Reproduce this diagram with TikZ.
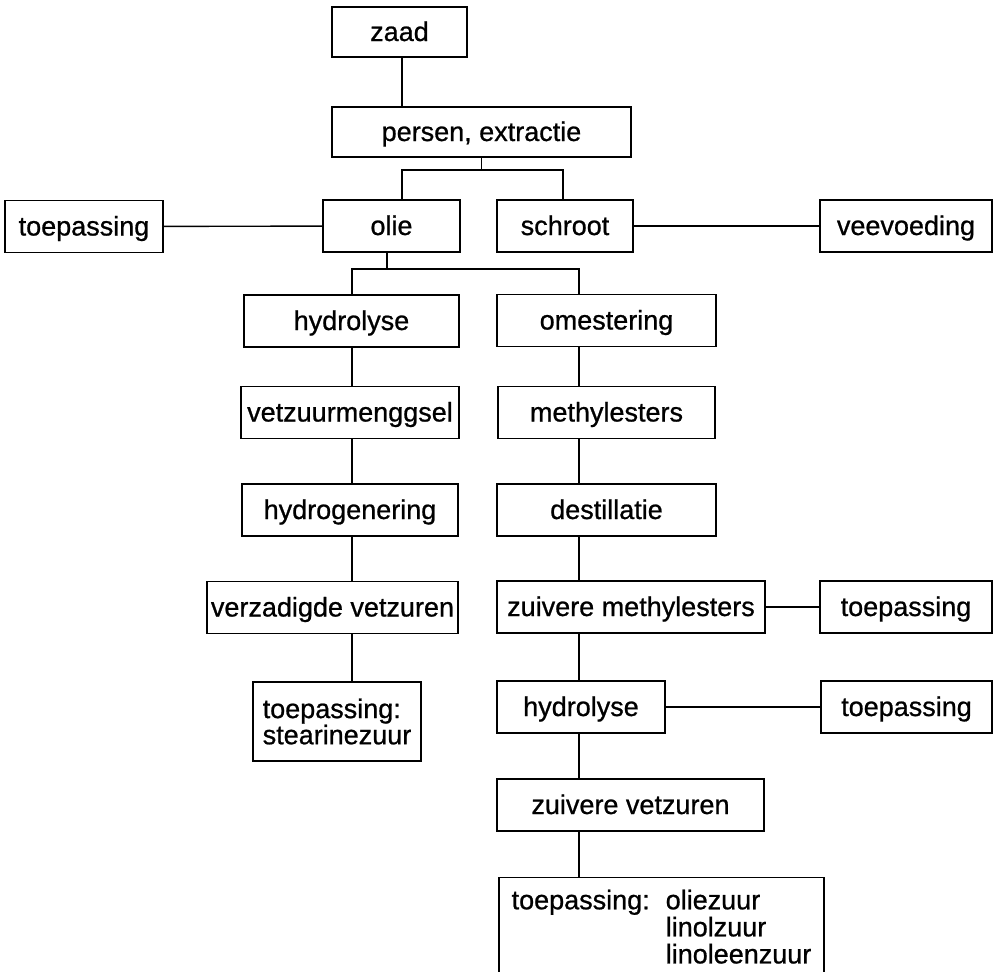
\documentclass[tikz,border=0pt]{standalone}
\usepackage{fontspec}
\setmainfont{Liberation Sans}[FakeBold=0.8]

\begin{document}
\begin{tikzpicture}[x=1pt, y=-1pt, line width=1.4pt,
  kader/.style={draw, rectangle, inner sep=0pt, font=\fontsize{27}{25}\selectfont},
  blok/.style={kader, minimum height=52, text height=22pt, text depth=4pt}]
\useasboundingbox (0,0) rectangle (994,972);
\clip (0,0) rectangle (994,972);

\node[blok, minimum width=135, minimum height=50] (zaad) at (399.5, 32) {zaad};
\node[blok, minimum width=299, minimum height=50] (pers) at (481.5, 132) {persen, extractie};
\node[blok, minimum width=158] (toe1) at (84, 226.5) {toepassing};
\node[blok, minimum width=137] (olie) at (391.5, 226) {olie};
\node[blok, minimum width=136] (schr) at (565, 226) {schroot};
\node[blok, minimum width=172] (vee) at (906, 226) {veevoeding};
\node[blok, minimum width=215] (hyd1) at (351.5, 321) {hydrolyse};
\node[blok, minimum width=219] (omes) at (606.5, 320.5) {omestering};
\node[blok, minimum width=218] (vzm) at (350, 412.5) {vetzuurmenggsel};
\node[blok, minimum width=217] (mest) at (606.5, 412.5) {methylesters};
\node[blok, minimum width=216] (hgen) at (350, 510) {hydrogenering};
\node[blok, minimum width=219] (dest) at (606.5, 510) {destillatie};
\node[blok, minimum width=251] (verz) at (332.5, 607.5) {verzadigde vetzuren};
\node[blok, minimum width=268] (zmest) at (631, 607) {zuivere methylesters};
\node[blok, minimum width=172] (toe2) at (906, 607) {toepassing};
\node[kader, minimum width=168, minimum height=79, align=left] (toe3) at (337, 721.5) {toepassing:\\stearinezuur};
\node[blok, minimum width=168] (hyd2) at (581, 707) {hydrolyse};
\node[blok, minimum width=171] (toe4) at (906.5, 707) {toepassing};
\node[blok, minimum width=267] (zvz) at (630.5, 805) {zuivere vetzuren};
\node[kader, minimum width=325, anchor=north, inner ysep=12pt] (toe5) at (661.5, 877)
  {\begin{tabular}{@{}l@{\hspace{16pt}}l@{}}toepassing: & oliezuur\\ & linolzuur\\ & linoleenzuur\end{tabular}};

\coordinate (lk) at (352, 0);
\coordinate (rk) at (579, 0);
\coordinate (k1) at (402, 170);
\coordinate (k2) at (563, 170);
\coordinate (k3) at (387, 269);

\draw (zaad.south -| k1) -- (pers.north -| k1);
\draw (pers.south) -- (pers.south |- k1);
\draw (olie.north -| k1) -- (k1) -- (k2) -- (schr.north -| k2);
\draw (toe1) -- (olie);
\draw (schr) -- (vee);
\draw (olie.south -| k3) -- (k3);
\draw (hyd1.north -| lk) -- (lk |- k3) -- (rk |- k3) -- (omes.north -| rk);
\foreach \a/\b in {hyd1/vzm, vzm/hgen, hgen/verz, verz/toe3}
  \draw (\a.south -| lk) -- (\b.north -| lk);
\foreach \a/\b in {omes/mest, mest/dest, dest/zmest, zmest/hyd2, hyd2/zvz, zvz/toe5}
  \draw (\a.south -| rk) -- (\b.north -| rk);
\draw (zmest) -- (toe2);
\draw (hyd2) -- (toe4);
\end{tikzpicture}
\end{document}
